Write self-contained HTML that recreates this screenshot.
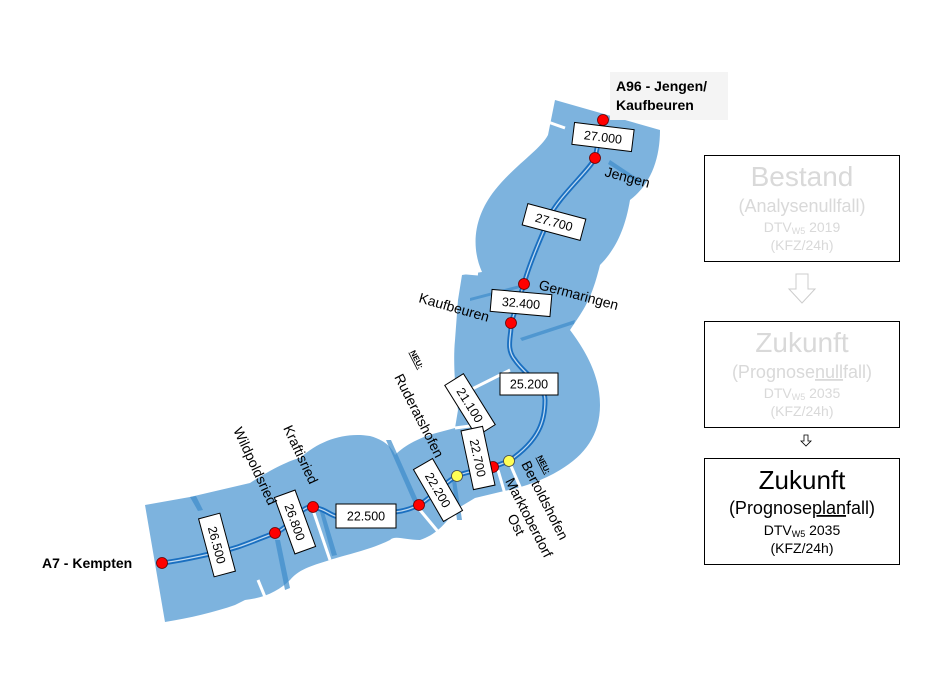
<!DOCTYPE html>
<html><head><meta charset="utf-8"><style>
body{margin:0;background:#fff;}
svg{display:block;font-family:"Liberation Sans",Arial,sans-serif;}
</style></head><body>
<svg width="945" height="680" viewBox="0 0 945 680" xmlns="http://www.w3.org/2000/svg">
<path fill="#7db3de" d="M145,505 L190,497 L250,483 C270,470 290,460 300,458 C320,440 345,432 370,436 C385,440 392,448 395,455 C405,445 420,437 440,432 L455,428 L458,410 C455,390 453,360 455,340 L458,300 L462,275 L482,272 C470,245 475,215 495,190 C515,165 540,150 548,135 L555,100 L660,130 C660,160 650,185 630,200 C625,230 615,250 600,265 C595,285 590,300 580,315 L570,330 C585,350 600,375 600,405 C600,435 585,455 560,470 C540,482 520,488 500,492 L475,498 L455,510 C445,525 435,535 420,540 C405,540 395,535 390,540 C370,550 345,555 330,560 C315,565 300,568 290,580 C280,590 265,598 245,600 L235,605 C215,612 190,618 165,622 Z"/>
<g stroke="#fff" stroke-width="3">
<line x1="548" y1="122" x2="565" y2="128"/>
<line x1="455" y1="272" x2="478" y2="274"/>
<line x1="470" y1="390" x2="510" y2="370"/>
<line x1="455" y1="428" x2="470" y2="426"/>
<line x1="420" y1="510" x2="445" y2="540"/>
<line x1="258" y1="580" x2="265" y2="597"/>
<line x1="313" y1="510" x2="330" y2="560"/>
<line x1="498" y1="470" x2="512" y2="518"/>
<line x1="511" y1="466" x2="530" y2="510"/>
</g>
<g fill="#3d8ccb" opacity="0.7">
<polygon points="190,497 196,496 203,510 198,511"/>
<polygon points="275,540 280,540 290,588 285,590"/>
<polygon points="320,512 324,512 337,555 332,556"/>
<polygon points="386,440 391,440 420,505 415,506"/>
<polygon points="452,480 456,480 462,520 457,520"/>
<polygon points="610,160 640,180 640,184 608,164"/>
<polygon points="520,338 575,320 574,324 522,341"/>
<polygon points="470,298 520,285 520,288 470,301"/>
</g>
<path d="M162,563 C185,560 195,557 215,553 C240,548 255,540 275,533 C290,528 300,505 313,507 C330,510 330,518 345,517 L395,512 C405,511 412,508 419,505 C435,495 445,482 457,476 C470,470 485,470 493,467 L509,461 C540,440 545,420 545,400 C545,385 525,375 515,360 C505,348 512,335 511,323 L524,284 C530,260 545,230 548,220 C555,200 590,170 595,158 L603,120" fill="none" stroke="#1a6fc0" stroke-width="5"/>
<path d="M162,563 C185,560 195,557 215,553 C240,548 255,540 275,533 C290,528 300,505 313,507 C330,510 330,518 345,517 L395,512 C405,511 412,508 419,505 C435,495 445,482 457,476 C470,470 485,470 493,467 L509,461 C540,440 545,420 545,400 C545,385 525,375 515,360 C505,348 512,335 511,323 L524,284 C530,260 545,230 548,220 C555,200 590,170 595,158 L603,120" fill="none" stroke="#bcd9f2" stroke-width="1.3"/>
<g fill="#f00" stroke="#600" stroke-width="0.8">
<circle cx="603" cy="120" r="5.5"/><circle cx="595" cy="158" r="5.5"/><circle cx="524" cy="284" r="5.5"/><circle cx="511" cy="323" r="5.5"/><circle cx="493" cy="467" r="5.5"/><circle cx="419" cy="505" r="5.5"/><circle cx="313" cy="507" r="5.5"/><circle cx="275" cy="533" r="5.5"/><circle cx="162" cy="563" r="5.5"/>
</g>
<g fill="#ff5" stroke="#444" stroke-width="0.8"><circle cx="457" cy="476" r="5.5"/><circle cx="509" cy="461" r="5.5"/></g>
<g font-size="12.5" text-anchor="middle">
<g transform="translate(603,137) rotate(7)"><rect x="-30" y="-11" width="60" height="22" fill="#fff" stroke="#000"/><text y="4.5">27.000</text></g>
<g transform="translate(554,222) rotate(15)"><rect x="-30" y="-11" width="60" height="22" fill="#fff" stroke="#000"/><text y="4.5">27.700</text></g>
<g transform="translate(521,303) rotate(5)"><rect x="-30" y="-11" width="60" height="22" fill="#fff" stroke="#000"/><text y="4.5">32.400</text></g>
<g transform="translate(529,384)"><rect x="-29" y="-11" width="58" height="22" fill="#fff" stroke="#000"/><text y="4.5">25.200</text></g>
<g transform="translate(470,405) rotate(58)"><rect x="-30" y="-11" width="60" height="22" fill="#fff" stroke="#000"/><text y="4.5">21.100</text></g>
<g transform="translate(478,458) rotate(78)"><rect x="-30" y="-11" width="60" height="22" fill="#fff" stroke="#000"/><text y="4.5">22.700</text></g>
<g transform="translate(438,490) rotate(60)"><rect x="-30" y="-11" width="60" height="22" fill="#fff" stroke="#000"/><text y="4.5">22.200</text></g>
<g transform="translate(366,516)"><rect x="-30" y="-12" width="60" height="24" fill="#fff" stroke="#000"/><text y="4.5">22.500</text></g>
<g transform="translate(295,522) rotate(70)"><rect x="-30" y="-11" width="60" height="22" fill="#fff" stroke="#000"/><text y="4.5">26.800</text></g>
<g transform="translate(217,545) rotate(75)"><rect x="-30" y="-11" width="60" height="22" fill="#fff" stroke="#000"/><text y="4.5">26.500</text></g>
</g>
<g font-size="14">
<text transform="translate(604,176) rotate(15)">Jengen</text>
<text transform="translate(538,289) rotate(15)">Germaringen</text>
<text transform="translate(418,302) rotate(16)">Kaufbeuren</text>
<text transform="translate(394,377) rotate(63)">Ruderatshofen</text>
<text transform="translate(283,428) rotate(65)">Kraftisried</text>
<text transform="translate(233,430) rotate(65)">Wildpoldsried</text>
<text transform="translate(505,481) rotate(63)">Marktoberdorf</text>
<text transform="translate(507,517) rotate(63)">Ost</text>
<text transform="translate(521,464) rotate(63)">Bertoldshofen</text>
</g>
<g font-size="8" font-weight="bold" text-decoration="underline">
<text transform="translate(410,352) rotate(63)">NEU:</text>
<text transform="translate(537,457) rotate(63)">NEU:</text>
</g>
<text x="42" y="568" font-size="14" font-weight="bold">A7 - Kempten</text>
<rect x="610" y="72" width="118" height="48" fill="#f4f4f4"/>
<text x="616" y="91" font-size="14" font-weight="bold">A96 - Jengen/</text>
<text x="616" y="110" font-size="14" font-weight="bold">Kaufbeuren</text>
<rect x="704.5" y="155.5" width="195" height="106" fill="#fff" stroke="#000"/>
<g fill="#d9d9d9" text-anchor="middle">
<text x="802" y="186" font-size="28">Bestand</text>
<text x="802" y="212" font-size="18">(Analysenullfall)</text>
<text x="802" y="232" font-size="14">DTV<tspan font-size="9" dy="2">W5</tspan><tspan dy="-2"> 2019</tspan></text>
<text x="802" y="250" font-size="14">(KFZ/24h)</text>
</g>
<polygon points="796,274 808,274 808,289 815,289 802,303 789,289 796,289" fill="#fff" stroke="#ccc"/>
<rect x="704.5" y="321.5" width="195" height="106" fill="#fff" stroke="#000"/>
<g fill="#d9d9d9" text-anchor="middle">
<text x="802" y="352" font-size="28">Zukunft</text>
<text x="802" y="378" font-size="18">(Prognose<tspan text-decoration="underline">null</tspan>fall)</text>
<text x="802" y="398" font-size="14">DTV<tspan font-size="9" dy="2">W5</tspan><tspan dy="-2"> 2035</tspan></text>
<text x="802" y="416" font-size="14">(KFZ/24h)</text>
</g>
<polygon points="804,435 808,435 808,441 811,441 806,446 801,441 804,441" fill="#fff" stroke="#000" stroke-width="0.8"/>
<rect x="704.5" y="458.5" width="195" height="106" fill="#fff" stroke="#000"/>
<g fill="#000" text-anchor="middle">
<text x="802" y="489" font-size="26">Zukunft</text>
<text x="802" y="514" font-size="18">(Prognose<tspan text-decoration="underline">plan</tspan>fall)</text>
<text x="802" y="535" font-size="14">DTV<tspan font-size="9" dy="2">W5</tspan><tspan dy="-2"> 2035</tspan></text>
<text x="802" y="553" font-size="14">(KFZ/24h)</text>
</g>
</svg>
</body></html>
